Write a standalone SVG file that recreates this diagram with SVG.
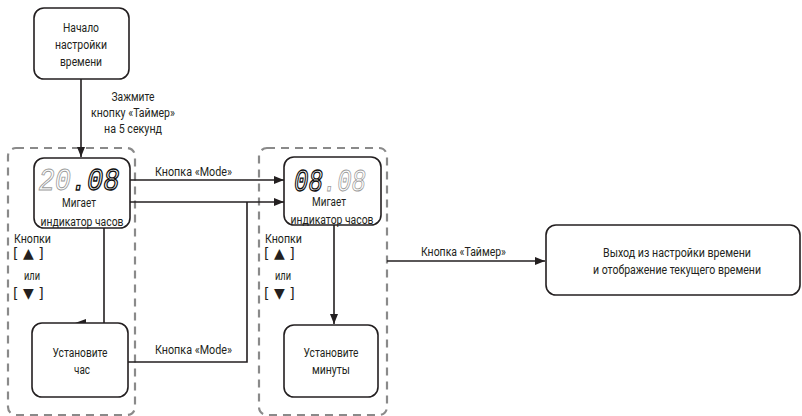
<svg xmlns="http://www.w3.org/2000/svg" width="802" height="416" viewBox="0 0 802 416">
<style>
.node{fill:#fff;stroke:#231f20;stroke-width:1.6}
.grp{fill:none;stroke:#8a8a8a;stroke-width:2.2;stroke-dasharray:8 6}
.t{font-family:Roboto,"Liberation Sans",sans-serif;font-size:12.5px;fill:#231f20;text-anchor:middle}
.l{font-family:Roboto,"Liberation Sans",sans-serif;font-size:12.5px;fill:#231f20}
.b{font-family:"DejaVu Sans",sans-serif;font-size:14px;fill:#231f20}
.c{fill:none;stroke:#231f20;stroke-width:1.6}
.dg{font-family:"Liberation Mono",monospace;font-style:italic;font-size:32px;fill:none;stroke:#9a9a9a;stroke-width:0.9}
.dk{font-family:"Liberation Mono",monospace;font-style:italic;font-size:32px;fill:none;stroke:#111;stroke-width:1.4}
</style>
<defs>
<marker id="ah" viewBox="0 0 10 8" refX="10" refY="4" markerWidth="10" markerHeight="8" markerUnits="userSpaceOnUse" orient="auto">
<path d="M0,0 L10,4 L0,8 Z" fill="#231f20"/>
</marker>
</defs>
<g id="group-hours"><rect class="grp" x="8" y="148" width="127" height="267" rx="8"/></g>
<g id="group-minutes"><rect class="grp" x="259" y="148" width="128" height="267" rx="8"/></g>
<g id="connectors">
<path class="c" d="M81,79 V157" marker-end="url(#ah)"/>
<path class="c" d="M130,180 H284" marker-end="url(#ah)"/>
<path class="c" d="M130,202 H284" marker-end="url(#ah)"/>
<path class="c" d="M128,362 H247 V202"/>
<path class="c" d="M104,228 V323"/>
<polygon points="75,323 86,319 86,327" fill="#231f20"/>
<path class="c" d="M334,225 V324" marker-end="url(#ah)"/>
<path class="c" d="M387,261 H545" marker-end="url(#ah)"/>
<text class="t" x="133" y="101" textLength="43" lengthAdjust="spacingAndGlyphs">Зажмите</text>
<text class="t" x="133" y="117" textLength="84" lengthAdjust="spacingAndGlyphs">кнопку «Таймер»</text>
<text class="t" x="133" y="133" textLength="58" lengthAdjust="spacingAndGlyphs">на 5 секунд</text>
<text class="l" x="155" y="176" textLength="77" lengthAdjust="spacingAndGlyphs">Кнопка «Mode»</text>
<text class="l" x="155" y="354" textLength="77" lengthAdjust="spacingAndGlyphs">Кнопка «Mode»</text>
<text class="l" x="421" y="256" textLength="85" lengthAdjust="spacingAndGlyphs">Кнопка «Таймер»</text>
</g>
<g id="start">
<rect class="node" x="34" y="8" width="95" height="71" rx="10"/>
<text class="t" x="81" y="32" textLength="36" lengthAdjust="spacingAndGlyphs">Начало</text>
<text class="t" x="81" y="49" textLength="52" lengthAdjust="spacingAndGlyphs">настройки</text>
<text class="t" x="81" y="66" textLength="42" lengthAdjust="spacingAndGlyphs">времени</text>
</g>
<g id="hour-blink">
<rect class="node" x="34" y="158" width="96" height="70" rx="10"/>
<text x="79" y="190" text-anchor="middle" textLength="81" lengthAdjust="spacingAndGlyphs"><tspan class="dg">20</tspan><tspan class="dk">.08</tspan></text>
<text class="t" x="79" y="207" textLength="34" lengthAdjust="spacingAndGlyphs">Мигает</text>
<text class="t" x="82" y="226" textLength="83" lengthAdjust="spacingAndGlyphs">индикатор часов</text>
</g>
<g id="hour-buttons">
<text class="l" x="14" y="243" textLength="37" lengthAdjust="spacingAndGlyphs">Кнопки</text>
<text class="b" x="13" y="258">[ ▲ ]</text>
<text class="l" x="24" y="280" textLength="16" lengthAdjust="spacingAndGlyphs">или</text>
<text class="b" x="13" y="298">[ ▼ ]</text>
</g>
<g id="set-hour">
<rect class="node" x="32" y="323" width="96" height="74" rx="10"/>
<text class="t" x="80" y="357" textLength="55" lengthAdjust="spacingAndGlyphs">Установите</text>
<text class="t" x="82" y="374" textLength="16" lengthAdjust="spacingAndGlyphs">час</text>
</g>
<g id="minute-blink">
<rect class="node" x="284" y="157" width="97" height="68" rx="10"/>
<text x="330" y="191" text-anchor="middle" textLength="72" lengthAdjust="spacingAndGlyphs"><tspan class="dk">08</tspan><tspan class="dg">.08</tspan></text>
<text class="t" x="329" y="206" textLength="34" lengthAdjust="spacingAndGlyphs">Мигает</text>
<text class="t" x="332" y="224" textLength="83" lengthAdjust="spacingAndGlyphs">индикатор часов</text>
</g>
<g id="minute-buttons">
<text class="l" x="265" y="243" textLength="37" lengthAdjust="spacingAndGlyphs">Кнопки</text>
<text class="b" x="264" y="258">[ ▲ ]</text>
<text class="l" x="275" y="280" textLength="16" lengthAdjust="spacingAndGlyphs">или</text>
<text class="b" x="264" y="298">[ ▼ ]</text>
</g>
<g id="set-minutes">
<rect class="node" x="284" y="325" width="94" height="72" rx="10"/>
<text class="t" x="331" y="357" textLength="55" lengthAdjust="spacingAndGlyphs">Установите</text>
<text class="t" x="331" y="374" textLength="38" lengthAdjust="spacingAndGlyphs">минуты</text>
</g>
<g id="exit">
<rect class="node" x="546" y="225" width="254" height="70" rx="10"/>
<text class="t" x="677" y="257" textLength="148" lengthAdjust="spacingAndGlyphs">Выход из настройки времени</text>
<text class="t" x="677" y="274" textLength="168" lengthAdjust="spacingAndGlyphs">и отображение текущего времени</text>
</g>
</svg>
